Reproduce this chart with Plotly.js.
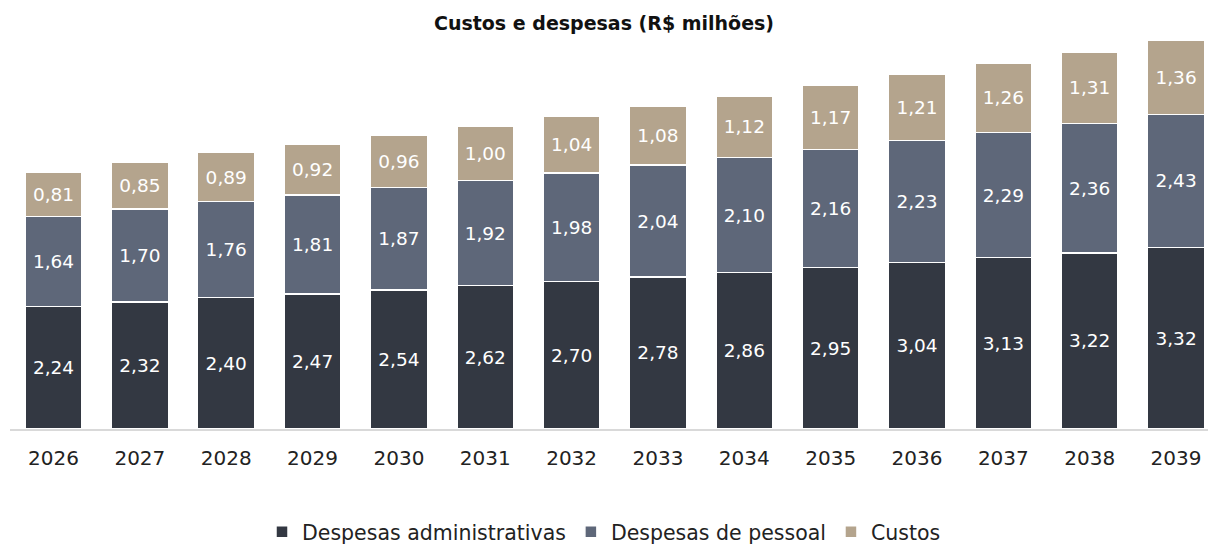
<!DOCTYPE html>
<html>
<head>
<meta charset="utf-8">
<script src="https://cdn.plot.ly/plotly-3.0.1.min.js"></script>
<style>html,body{margin:0;padding:0;background:#fff;}#chart{width:1208px;height:546px;}</style>
</head>
<body>
<div id="chart"></div>
<script>
const years = ['2026','2027','2028','2029','2030','2031','2032','2033','2034','2035','2036','2037','2038','2039'];
const despesasAdministrativas = [2.24,2.32,2.40,2.47,2.54,2.62,2.70,2.78,2.86,2.95,3.04,3.13,3.22,3.32];
const despesasPessoal = [1.64,1.70,1.76,1.81,1.87,1.92,1.98,2.04,2.10,2.16,2.23,2.29,2.36,2.43];
const custos = [0.81,0.85,0.89,0.92,0.96,1.00,1.04,1.08,1.12,1.17,1.21,1.26,1.31,1.36];

const FONT = 'DejaVu Sans, Noto Sans, sans-serif';
function mk(name, vals, color) {
  return {
    type: 'bar', name: name, x: years, y: vals,
    marker: {color: color, line: {color: '#ffffff', width: 1.5}},
    texttemplate: '%{y:.2f}', textposition: 'inside', insidetextanchor: 'middle',
    textangle: 0, constraintext: 'none',
    textfont: {family: FONT, size: 18.5, color: '#ffffff'},
    hoverinfo: 'skip'
  };
}
const data = [
  mk('Despesas administrativas', despesasAdministrativas, '#333842'),
  mk('Despesas de pessoal', despesasPessoal, '#5e6779'),
  mk('Custos', custos, '#b4a48d')
];
const layout = {
  width: 1208, height: 546,
  barmode: 'stack', bargap: 0.34,
  separators: ',.',
  margin: {l: 10, r: 0, t: 35, b: 117},
  paper_bgcolor: '#ffffff', plot_bgcolor: '#ffffff',
  title: {text: '<b>Custos e despesas (R$ milhões)</b>', x: 0.5, xanchor: 'center', y: 0.958, yanchor: 'middle',
          font: {family: FONT, size: 19, color: '#111111'}},
  xaxis: {type: 'category', range: [-0.504, 13.37], showline: true, linecolor: '#d9d9d9', linewidth: 2,
          ticks: 'outside', ticklen: 10, tickcolor: 'rgba(0,0,0,0)',
          tickfont: {family: FONT, size: 20, color: '#222222'}, fixedrange: true},
  yaxis: {range: [0, 7.2], visible: false, showgrid: false, zeroline: false},
  showlegend: true,
  legend: {orientation: 'h', xref: 'container', yref: 'container', x: 0.5, xanchor: 'center', y: 0.026, yanchor: 'middle',
           font: {family: FONT, size: 20.5, color: '#222222'}, traceorder: 'normal',
           itemwidth: 30, itemclick: false},
  font: {family: FONT}
};
Plotly.newPlot('chart', data, layout, {displayModeBar: false, staticPlot: true});
</script>
</body>
</html>
